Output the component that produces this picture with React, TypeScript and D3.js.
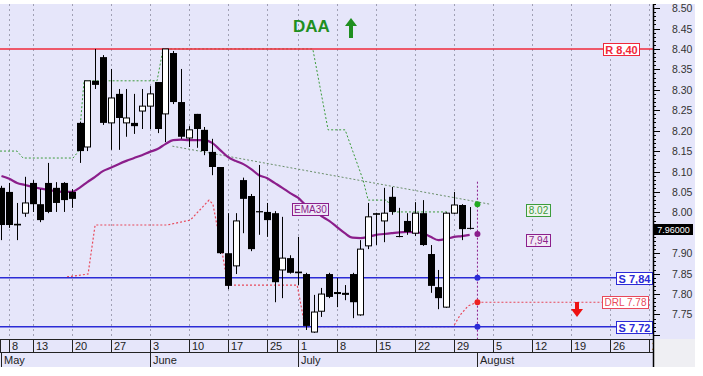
import React from "react";
import * as d3 from "d3";

const W = 703;
const H = 376;

// Trading-day index of the first candle (May 8 = 0)
const startIndex = -1;
const opens = [8.060, 8.050, 7.972, 7.998, 8.072, 8.020, 8.072, 8.060, 8.072, 8.050, 8.219, 8.160, 8.322, 8.380, 8.219, 8.290, 8.219, 8.219, 8.248, 8.260, 8.319, 8.241, 8.390, 8.270, 8.182, 8.241, 8.202, 8.148, 8.111, 7.900, 7.869, 8.079, 8.040, 8.003, 8.001, 7.998, 7.859, 7.888, 7.855, 7.849, 7.707, 7.758, 7.849, 7.805, 7.803, 7.849, 7.749, 7.918, 7.998, 7.979, 8.038, 7.942, 7.979, 7.949, 7.998, 7.898, 7.817, 7.768, 7.998, 8.018, 7.962];
const highs = [8.065, 8.072, 8.023, 8.087, 8.079, 8.057, 8.121, 8.074, 8.074, 8.057, 8.222, 8.322, 8.400, 8.385, 8.351, 8.302, 8.302, 8.290, 8.302, 8.309, 8.319, 8.400, 8.395, 8.351, 8.211, 8.241, 8.209, 8.180, 8.111, 7.998, 7.998, 8.085, 8.045, 8.116, 8.023, 8.003, 7.989, 7.895, 7.940, 7.852, 7.798, 7.815, 7.852, 7.839, 7.822, 7.852, 7.932, 8.023, 7.999, 8.060, 8.062, 8.011, 7.998, 8.025, 8.030, 7.920, 7.859, 8.000, 8.050, 8.020, 8.013];
const lows = [7.932, 7.962, 7.932, 7.989, 8.001, 7.976, 7.998, 8.001, 8.001, 8.011, 8.121, 8.150, 8.302, 8.214, 8.153, 8.153, 8.185, 8.192, 8.204, 8.204, 8.194, 8.172, 8.265, 8.180, 8.160, 8.158, 8.140, 8.091, 7.898, 7.812, 7.849, 7.949, 7.905, 7.945, 7.940, 7.780, 7.790, 7.850, 7.822, 7.712, 7.705, 7.744, 7.790, 7.768, 7.785, 7.741, 7.747, 7.910, 7.920, 7.927, 7.994, 7.939, 7.945, 7.942, 7.918, 7.803, 7.763, 7.766, 7.996, 7.932, 7.958];
const closes = [7.969, 7.969, 7.968, 8.023, 8.020, 7.981, 8.001, 8.023, 8.030, 8.033, 8.150, 8.322, 8.312, 8.219, 8.280, 8.231, 8.231, 8.211, 8.260, 8.290, 8.204, 8.400, 8.270, 8.185, 8.202, 8.204, 8.150, 8.111, 7.900, 7.820, 7.979, 8.033, 7.910, 8.000, 7.981, 7.829, 7.888, 7.852, 7.851, 7.722, 7.756, 7.800, 7.793, 7.800, 7.798, 7.780, 7.910, 7.989, 7.994, 7.998, 8.001, 7.940, 7.952, 7.998, 7.920, 7.820, 7.790, 7.998, 8.018, 7.959, 7.960];
const ema30 = [8.089, 8.082, 8.072, 8.067, 8.062, 8.058, 8.055, 8.052, 8.050, 8.050, 8.060, 8.074, 8.087, 8.101, 8.109, 8.118, 8.126, 8.133, 8.140, 8.148, 8.155, 8.167, 8.177, 8.178, 8.177, 8.177, 8.177, 8.170, 8.153, 8.136, 8.126, 8.118, 8.106, 8.091, 8.084, 8.072, 8.060, 8.047, 8.036, 8.018, 8.006, 7.991, 7.979, 7.964, 7.949, 7.938, 7.937, 7.940, 7.945, 7.947, 7.949, 7.951, 7.952, 7.951, 7.949, 7.940, 7.932, 7.935, 7.940, 7.942, 7.945];

// Upper trailing stop (green dotted)
const stopIdx = [-1.19, 0.99, 1.76, 8.17, 8.81, 9.58, 18.94, 19.71, 38.9, 40.86, 43.04, 45.35, 45.99, 48.4, 49.2, 56.1];
const stopVal = [8.150, 8.150, 8.133, 8.133, 8.148, 8.322, 8.322, 8.400, 8.400, 8.202, 8.202, 8.079, 8.030, 8.030, 8.001, 8.001];
// Lower trailing stop (DRL, red dotted)
const drlIdx = [7.4, 10.1, 11.0, 20.2, 23.2, 25.6, 26.1, 27.3, 28.0, 36.9, 37.9, 56.9, 57.8, 58.8, 60];
const drlVal = [7.842, 7.849, 7.969, 7.969, 7.981, 8.030, 8.020, 7.900, 7.822, 7.822, 7.720, 7.720, 7.749, 7.771, 7.780];
// Descending trend line (grey-green dotted)
const trendIdx = [20.9, 61.6];
const trendVal = [8.162, 8.020];

const weekTickIdx = [0, 3, 8, 13, 18, 23, 28, 33, 37, 42, 47, 52, 57, 62, 67, 72, 77, 82];
const weekTickLabels = ["8", "13", "20", "27", "3", "10", "17", "25", "1", "8", "15", "22", "29", "5", "12", "19", "26", "2"];
const monthIdx = [-1.08, 18, 37, 60];
const monthLabels = ["May", "June", "July", "August"];
// 7.95 sits hidden behind the last-price box in the reference
const yTickLabels = ["8.50", "8.45", "8.40", "8.35", "8.30", "8.25", "8.20", "8.15", "8.10", "8.05", "8.00", "7.90", "7.85", "7.80", "7.75"];
const yMajorTicks = [8.50, 8.45, 8.40, 8.35, 8.30, 8.25, 8.20, 8.15, 8.10, 8.05, 8.00, 7.95, 7.90, 7.85, 7.80, 7.75, 7.70];

const resistance = 8.40;
const supports = [7.84, 7.72];
const drlLevel = 7.78;
const projIdx = 60;
const projTop = 8.075;
const stopEnd = 8.02;
const emaEnd = 7.947;
const lastClose = 7.96;

const FONT = "Arial, 'Liberation Sans', sans-serif";
const RED = "#f0283a";
const BLUE = "#2b2bd6";
const GREEN = "#3c9c3c";
const PURPLE = "#8b1e8b";
const DRLRED = "#e8485a";

export default function App() {
  const plotR = 653;
  const plotT = 4;
  const plotB = 339;
  const x = d3.scaleLinear().domain([-1.19, 82.5]).range([0, plotR]);
  const y = d3.scaleLinear().domain([7.69, 8.51]).range([plotB, plotT]);

  const candles = opens.map((o, k) => ({ i: startIndex + k, o, h: highs[k], l: lows[k], c: closes[k] }));
  const pl = d3.line<[number, number]>().x((d) => x(d[0])).y((d) => y(d[1]));
  const emaPath = d3
    .line<number>()
    .x((_, k) => x(startIndex + k))
    .y((d) => y(d))
    .curve(d3.curveMonotoneX)(ema30) as string;
  const stopPath = pl(stopIdx.map((v, k) => [v, stopVal[k]]) as [number, number][]) as string;
  const drlPath = pl(drlIdx.map((v, k) => [v, drlVal[k]]) as [number, number][]) as string;
  const trendPath = pl(trendIdx.map((v, k) => [v, trendVal[k]]) as [number, number][]) as string;

  const minor = d3.range(770, 852).map((v) => v / 100);
  const px = x(projIdx);

  const box = (cx0: number, cx1: number, cy: number, text: string, color: string, bold: boolean, fs: number, fill = "#ffffff") => (
    <g>
      <rect x={cx0 + 0.5} y={Math.round(cy) - 5.5} width={cx1 - cx0} height={12} fill={fill} stroke={color} strokeWidth={1} />
      <text x={(cx0 + cx1) / 2 + 0.5} y={Math.round(cy) + 0.5} textAnchor="middle" dominantBaseline="central" fontFamily={FONT} fontSize={fs} fontWeight={bold ? "bold" : "normal"} fill={color}>
        {text}
      </text>
    </g>
  );

  return (
    <div style={{ position: "fixed", left: 0, top: 0, width: W, height: H, background: "#fff" }}>
      <svg width={W} height={H} style={{ display: "block" }}>
        <defs>
          <clipPath id="plotclip">
            <rect x={0} y={plotT} width={plotR} height={plotB - plotT} />
          </clipPath>
          <clipPath id="axclip">
            <rect x={0} y={plotB} width={plotR} height={30} />
          </clipPath>
        </defs>
        <rect x={0} y={0} width={W} height={H} fill="#ffffff" />
        <rect x={0} y={plotT} width={695} height={367 - plotT} fill="#e6e6fa" />
        <rect x={plotR} y={plotB} width={695 - plotR} height={367 - plotB} fill="#efeff3" />

        {/* vertical grid */}
        {weekTickIdx.map((t, k) => (
          <line key={"g" + k} x1={Math.round(x(t)) + 0.5} x2={Math.round(x(t)) + 0.5} y1={plotT} y2={plotB} stroke="#a0a0b4" strokeDasharray="2,3" />
        ))}

        <g clipPath="url(#plotclip)">
          {/* trailing stops */}
          <path d={stopPath} fill="none" stroke={GREEN} strokeWidth={1} strokeDasharray="2,2" />
          <path d={trendPath} fill="none" stroke="#6b8f6b" strokeWidth={1} strokeDasharray="2,2" />
          <path d={drlPath} fill="none" stroke={DRLRED} strokeWidth={1.2} strokeDasharray="2,2" />
          <line x1={px} x2={602} y1={y(drlLevel)} y2={y(drlLevel)} stroke={DRLRED} strokeWidth={1.2} strokeDasharray="2,2" />

          {/* support / resistance */}
          <line x1={0} x2={plotR} y1={y(resistance)} y2={y(resistance)} stroke={RED} strokeWidth={1.6} />
          {supports.map((s, k) => (
            <line key={"s" + k} x1={0} x2={plotR} y1={y(s)} y2={y(s)} stroke={BLUE} strokeWidth={1.4} />
          ))}

          {/* EMA30 */}
          <path d={emaPath} fill="none" stroke={PURPLE} strokeWidth={2.2} />

          {/* candles */}
          {candles.map((d) => {
            const cx = Math.round(x(d.i));
            const top = y(Math.max(d.o, d.c));
            const bot = y(Math.min(d.o, d.c));
            const hgt = Math.max(1, bot - top);
            const up = d.c >= d.o;
            return (
              <g key={"c" + d.i}>
                <line x1={cx + 0.5} x2={cx + 0.5} y1={y(d.h)} y2={y(d.l)} stroke="#000" strokeWidth={1} />
                {up ? (
                  <rect x={cx - 2.5} y={top} width={6} height={hgt} fill="#fff" stroke="#000" strokeWidth={1} />
                ) : (
                  <rect x={cx - 3} y={top} width={7} height={hgt} fill="#000" />
                )}
              </g>
            );
          })}

          {/* projection line and dots */}
          <line x1={px} x2={px} y1={y(projTop)} y2={plotB} stroke={PURPLE} strokeWidth={1} strokeDasharray="2,2" />
          <circle cx={px} cy={y(stopEnd)} r={3} fill="#22aa22" />
          <circle cx={px} cy={y(emaEnd)} r={3} fill={PURPLE} />
          <circle cx={px} cy={y(supports[0])} r={3} fill={BLUE} />
          <circle cx={px} cy={y(drlLevel)} r={3} fill="#ee2222" />
          <circle cx={px} cy={y(supports[1])} r={3} fill={BLUE} />
        </g>

        {/* labels */}
        {box(603, 639, y(resistance), "R 8,40", RED, true, 11)}
        {box(616, 652, y(supports[0]), "S 7,84", BLUE, true, 11)}
        {box(616, 652, y(supports[1]), "S 7,72", BLUE, true, 11)}
        {box(602, 648, y(drlLevel), "DRL 7.78", DRLRED, false, 10)}
        {box(526, 550, y(8.005), "8.02", GREEN, false, 10, "#eef4ee")}
        {box(526, 550, y(7.932), "7,94", PURPLE, false, 10, "#f2eaf6")}
        {box(292, 328, y(8.008), "EMA30", PURPLE, false, 10, "#eee8f8")}

        <text x={293} y={32} fontFamily={FONT} fontSize={17} fontWeight="bold" fill="#1f8f1f">DAA</text>
        <path d="M351,18 L357,26 L353,26 L353,38 L349,38 L349,26 L345,26 Z" fill="#1f8f1f" />
        <path d="M577,317 L583,309 L579,309 L579,302 L575,302 L575,309 L571,309 Z" fill="#ee1111" />

        {/* right axis */}
        <line x1={plotR + 0.5} x2={plotR + 0.5} y1={plotT} y2={367} stroke="#000" strokeWidth={1.5} />
        {minor.map((v, k) => (
          <line key={"m" + k} x1={plotR} x2={plotR + 3} y1={Math.round(y(v)) + 0.5} y2={Math.round(y(v)) + 0.5} stroke="#000" />
        ))}
        {yMajorTicks.map((v, k) => (
          <line key={"M" + k} x1={plotR} x2={plotR + 7} y1={Math.round(y(v)) + 0.5} y2={Math.round(y(v)) + 0.5} stroke="#000" />
        ))}
        {yTickLabels.map((t, k) => (
          <text key={"yl" + k} x={672} y={y(+t)} dominantBaseline="central" fontFamily={FONT} fontSize={10.5} fill="#333">{t}</text>
        ))}
        <rect x={654} y={Math.round(y(lastClose)) - 5} width={39} height={11} fill="#000" />
        <text x={673.5} y={Math.round(y(lastClose)) + 0.5} textAnchor="middle" dominantBaseline="central" fontFamily={FONT} fontSize={9} fill="#fff">7.96000</text>

        {/* x axis */}
        <line x1={0} x2={plotR} y1={plotB + 0.5} y2={plotB + 0.5} stroke="#222" />
        <line x1={0} x2={plotR} y1={352.5} y2={352.5} stroke="#222" />
        <g clipPath="url(#axclip)">
          <line x1={0.5} x2={0.5} y1={plotB} y2={352} stroke="#222" />
          {weekTickIdx.map((t, k) => (
            <g key={"xt" + k}>
              <line x1={Math.round(x(t)) + 0.5} x2={Math.round(x(t)) + 0.5} y1={plotB} y2={352} stroke="#222" />
              <text x={Math.round(x(t)) + 3} y={349.5} fontFamily={FONT} fontSize={11} fill="#222">{weekTickLabels[k]}</text>
            </g>
          ))}
          {monthIdx.map((t, k) => (
            <g key={"mt" + k}>
              <line x1={Math.round(x(t)) + 0.5} x2={Math.round(x(t)) + 0.5} y1={352} y2={367} stroke="#222" />
              <text x={Math.round(x(t)) + 3} y={363.5} fontFamily={FONT} fontSize={11} fill="#222">{monthLabels[k]}</text>
            </g>
          ))}
        </g>
      </svg>
    </div>
  );
}
